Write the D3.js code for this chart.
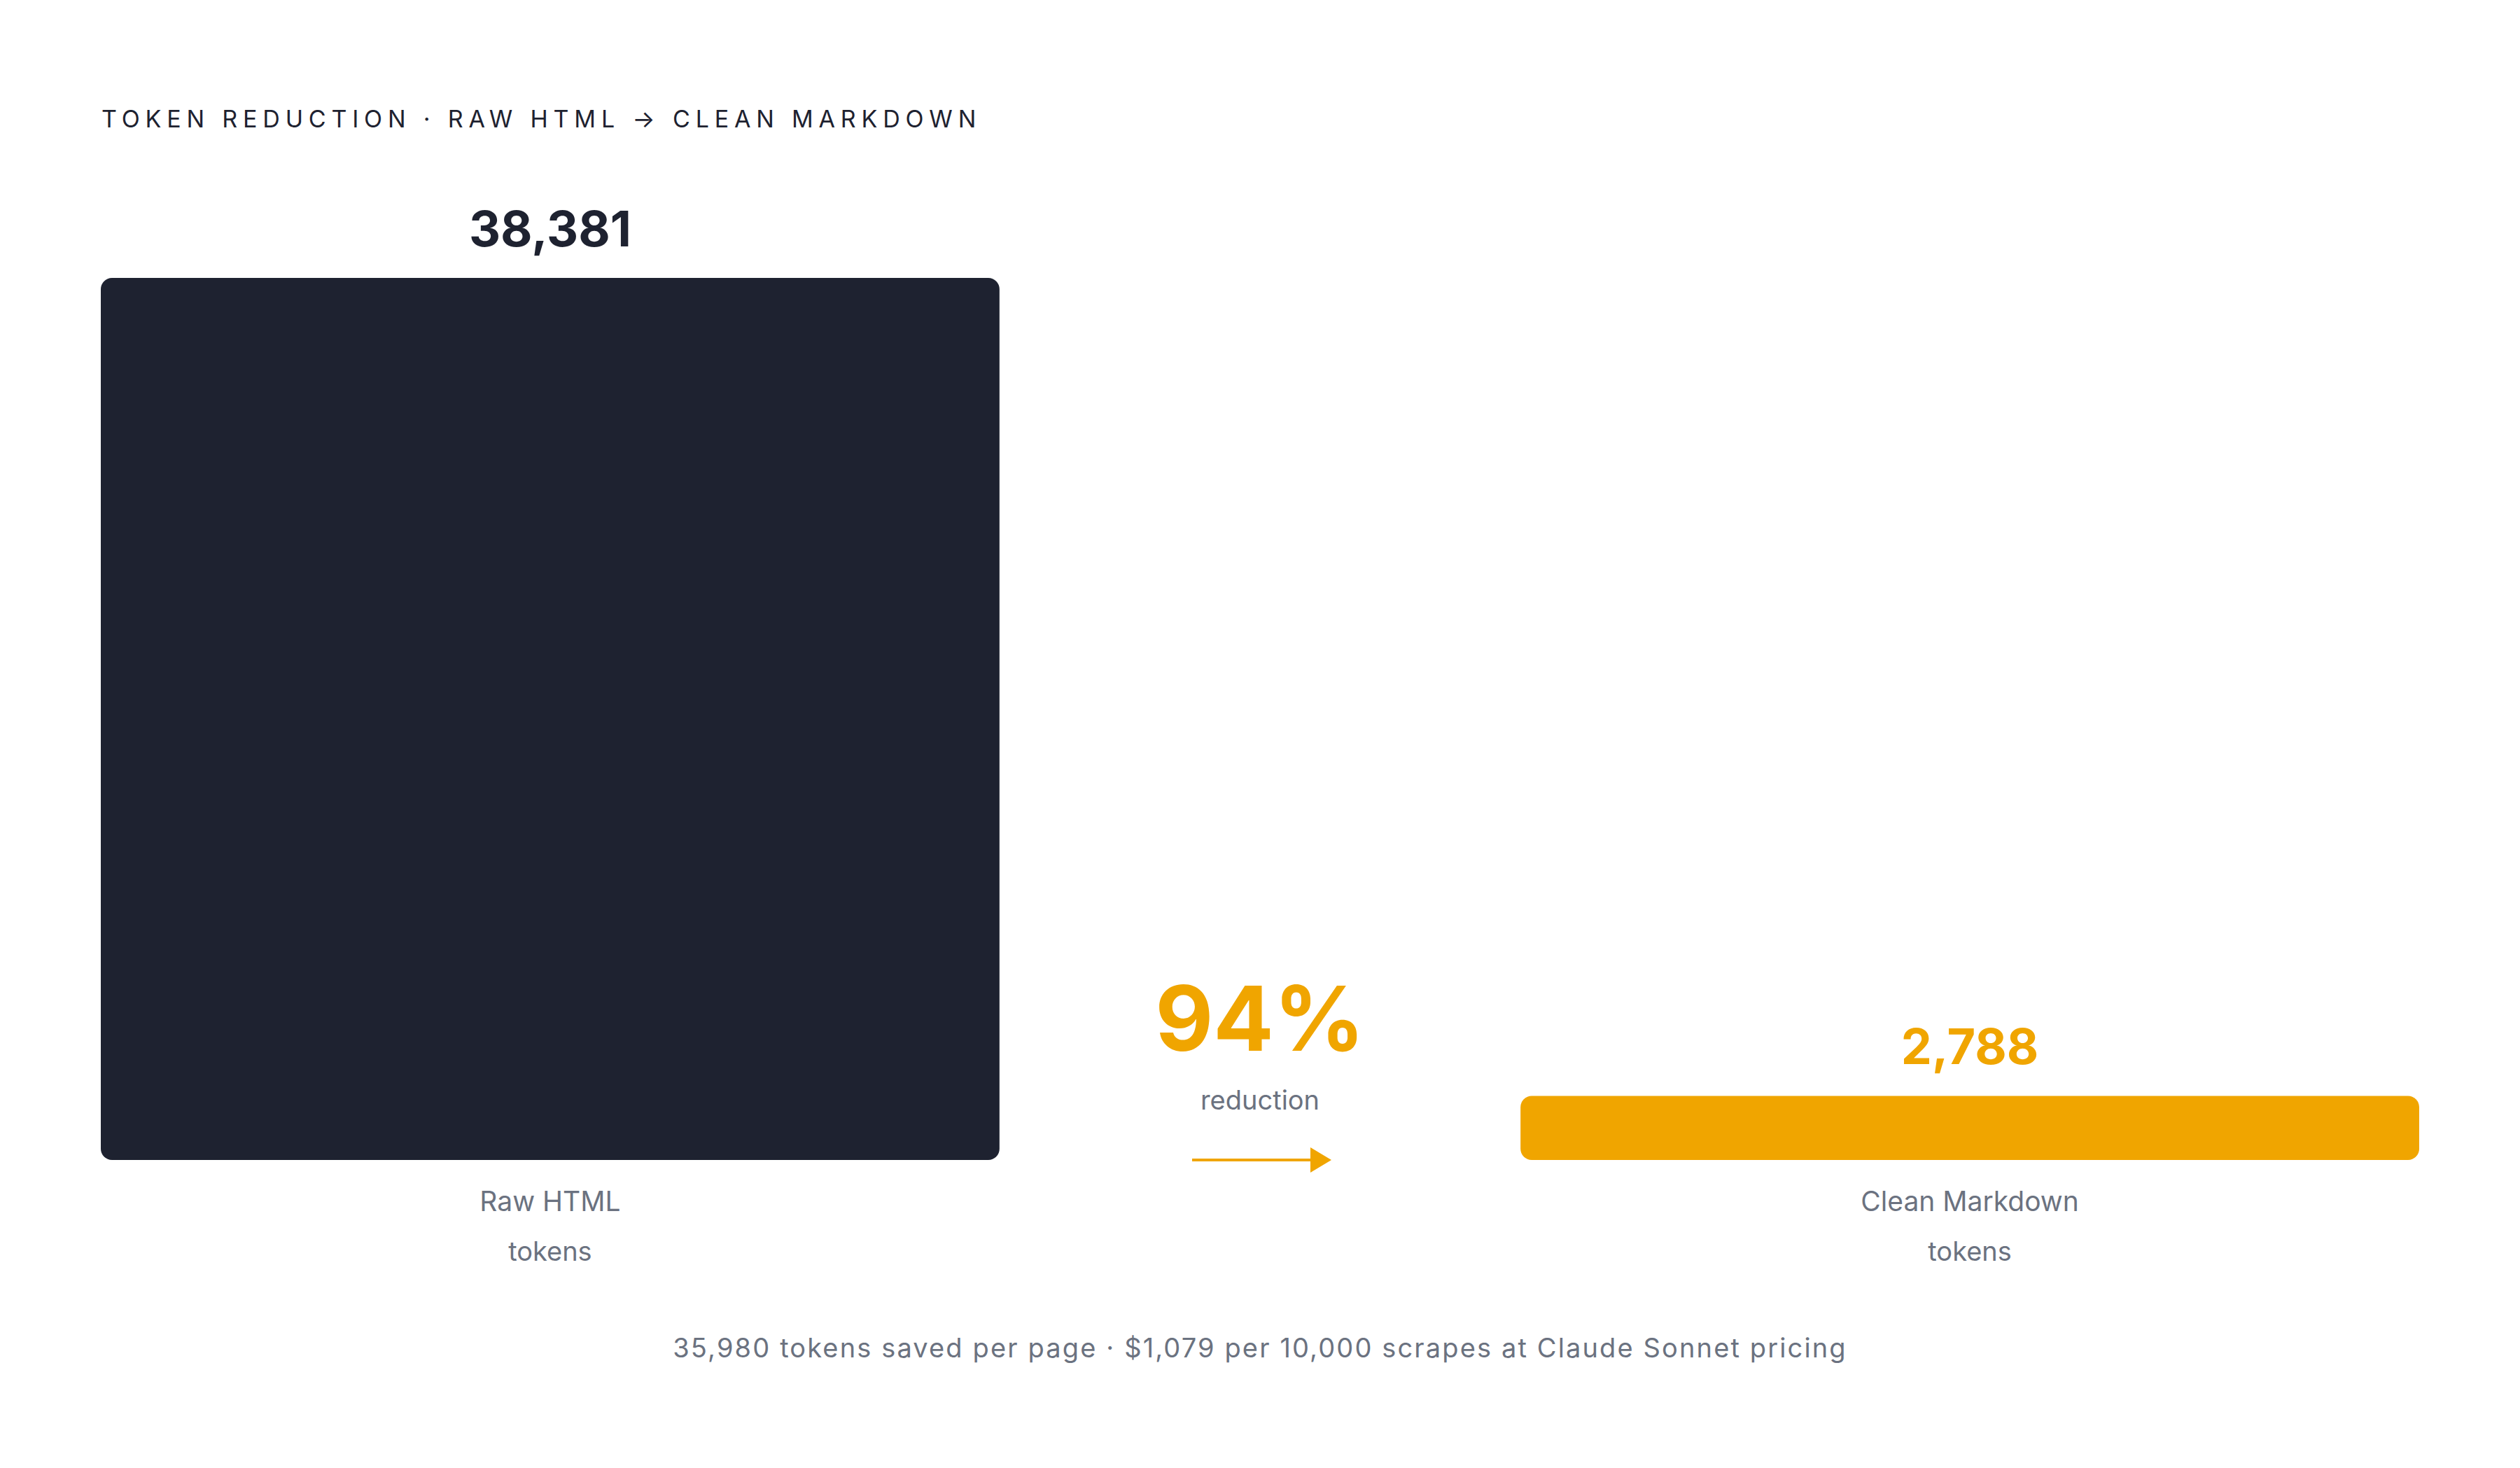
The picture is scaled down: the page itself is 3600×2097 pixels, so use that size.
<!DOCTYPE html>
<html>
<head>
<meta charset="utf-8">
<script src="https://cdn.jsdelivr.net/npm/d3@7"></script>
<style>
  html, body { margin: 0; padding: 0; background: #ffffff; }
  svg { display: block; font-family: Inter, "Noto Sans", sans-serif; }
</style>
</head>
<body>
<svg id="chart" width="3600" height="2097"></svg>
<script>
// ---- data ----
const categories = ["Raw HTML", "Clean Markdown"];
const tokens = [38381, 2788];
const subLabels = ["tokens", "tokens"];
const barColors = ["#1e2230", "#f0a500"];
const titleText = "TOKEN REDUCTION \u00b7 RAW HTML \u2192 CLEAN MARKDOWN";
const reductionText = "94%";
const reductionLabel = "reduction";
const footerText = "35,980 tokens saved per page \u00b7 $1,079 per 10,000 scrapes at Claude Sonnet pricing";

// ---- layout ----
const W = 3600, H = 2097;
const plotLeft = 144, plotRight = 3456, plotTop = 397, plotBottom = 1657;
const svg = d3.select("#chart");
svg.append("rect").attr("width", W).attr("height", H).attr("fill", "#ffffff");

const x = d3.scaleBand().domain(categories).range([plotLeft, plotRight]).paddingInner(0.367).paddingOuter(0);
const y = d3.scaleLinear().domain([0, d3.max(tokens)]).range([plotBottom, plotTop]);

const data = categories.map((c, i) => ({ cat: c, v: tokens[i], color: barColors[i], sub: subLabels[i] }));

// title
svg.append("text")
  .attr("x", 145).attr("y", 182)
  .attr("font-size", 34).attr("font-weight", 400)
  .attr("letter-spacing", "0.23em")
  .attr("fill", "#1e2230")
  .text(titleText);

// bars (rounded)
svg.selectAll("rect.bar").data(data).join("rect")
  .attr("class", "bar")
  .attr("x", d => x(d.cat))
  .attr("y", d => y(d.v))
  .attr("width", x.bandwidth())
  .attr("height", d => y(0) - y(d.v))
  .attr("rx", 16).attr("ry", 16)
  .attr("fill", d => d.color);

// value labels
svg.selectAll("text.val").data(data).join("text")
  .attr("class", "val")
  .attr("x", d => x(d.cat) + x.bandwidth() / 2)
  .attr("y", d => y(d.v) - 45)
  .attr("text-anchor", "middle")
  .attr("font-size", 70).attr("font-weight", 700)
  .attr("fill", d => d.color)
  .text(d => d3.format(",")(d.v));

// category labels
svg.selectAll("text.cat").data(data).join("text")
  .attr("class", "cat")
  .attr("x", d => x(d.cat) + x.bandwidth() / 2)
  .attr("y", 1730)
  .attr("text-anchor", "middle")
  .attr("font-size", 39).attr("font-weight", 400)
  .attr("fill", "#6b7280")
  .text(d => d.cat);

svg.selectAll("text.sub").data(data).join("text")
  .attr("class", "sub")
  .attr("x", d => x(d.cat) + x.bandwidth() / 2)
  .attr("y", 1801)
  .attr("text-anchor", "middle")
  .attr("font-size", 38).attr("font-weight", 400)
  .attr("fill", "#6b7280")
  .text(d => d.sub);

// middle annotation
const midX = (x(categories[0]) + x.bandwidth() + x(categories[1])) / 2;
svg.append("text")
  .attr("x", midX).attr("y", 1501)
  .attr("text-anchor", "middle")
  .attr("font-size", 128).attr("font-weight", 700)
  .attr("fill", barColors[1])
  .text(reductionText);
svg.append("text")
  .attr("x", midX).attr("y", 1585)
  .attr("text-anchor", "middle")
  .attr("font-size", 38).attr("font-weight", 400)
  .attr("fill", "#6b7280")
  .text(reductionLabel);

// arrow
const ay = plotBottom;
svg.append("line")
  .attr("x1", midX - 97).attr("x2", midX + 74)
  .attr("y1", ay).attr("y2", ay)
  .attr("stroke", barColors[1]).attr("stroke-width", 4);
svg.append("path")
  .attr("d", `M${midX + 72},${ay - 18} L${midX + 102},${ay} L${midX + 72},${ay + 18} Z`)
  .attr("fill", barColors[1]);

// footer
svg.append("text")
  .attr("x", midX).attr("y", 1939)
  .attr("text-anchor", "middle")
  .attr("font-size", 38).attr("font-weight", 400)
  .attr("letter-spacing", "0.056em")
  .attr("fill", "#6b7280")
  .text(footerText);
</script>
</body>
</html>
